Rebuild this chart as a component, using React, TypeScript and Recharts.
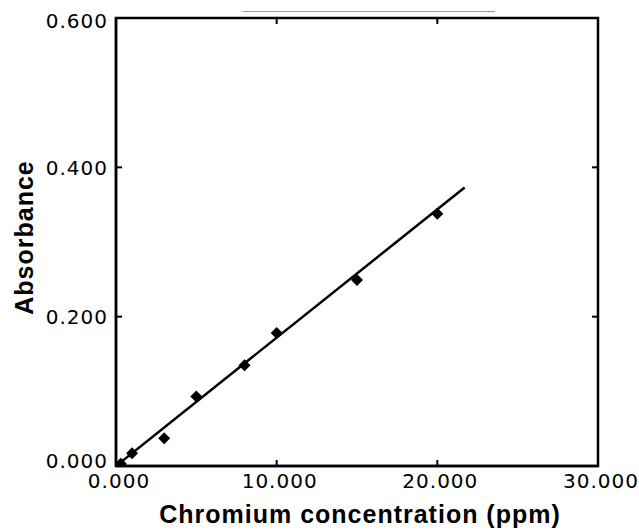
import React from 'react';
import { ScatterChart, Scatter, XAxis, YAxis, Label, ReferenceArea } from 'recharts';

// calibration standards
const CONC = [0.3, 1.0, 3.0, 5.0, 8.0, 10.0, 15.0, 20.0];
const ABS = [0.003, 0.017, 0.037, 0.093, 0.135, 0.178, 0.249, 0.338];

// least squares line, drawn between its two end points
const FIT_X = [0, 21.7];
const FIT_Y = [0, 0.373];

const X_TICKS = [0, 10, 20, 30];
const Y_TICKS = [0, 0.2, 0.4, 0.6];
const INNER_X_TICKS = [10, 20];
const INNER_Y_TICKS = [0.2, 0.4];

const points = CONC.map((x, i) => ({ x, y: ABS[i] }));
const fitLine = FIT_X.map((x, i) => ({ x, y: FIT_Y[i] }));

// plot box, in pixels
const W = 639;
const H = 531;
const M = { top: 18, right: 41, bottom: 0, left: 0 };
const Y_AXIS_W = 116;
const X_AXIS_H = 65;
const PLOT_TOP = M.top;
const PLOT_BOTTOM = H - M.bottom - X_AXIS_H;
const PLOT_LEFT = M.left + Y_AXIS_W;
const PLOT_RIGHT = W - M.right;
const TICK_LEN = 6;

const tickFont = { fill: '#000', fontSize: 20, fontFamily: 'DejaVu Sans', letterSpacing: 1 };
const titleStyle = { fill: '#000', fontSize: 25, fontFamily: 'Liberation Sans, Arial', fontWeight: 700, letterSpacing: 1 };
const frame = { stroke: '#000', strokeWidth: 2.5 };

const Diamond = (props: any) => {
  const { cx, cy } = props;
  const r = 6;
  return <polygon points={`${cx},${cy - r} ${cx + r},${cy} ${cx},${cy + r} ${cx - r},${cy}`} fill="#000" />;
};

// label under the axis plus short inward ticks on bottom and top edges
const XTick = (props: any) => {
  const { x, y, payload } = props;
  const inner = INNER_X_TICKS.includes(payload.value);
  return (
    <g>
      {inner && <line x1={x} x2={x} y1={PLOT_BOTTOM} y2={PLOT_BOTTOM - TICK_LEN} stroke="#000" strokeWidth={2} />}
      {inner && <line x1={x} x2={x} y1={PLOT_TOP} y2={PLOT_TOP + TICK_LEN} stroke="#000" strokeWidth={2} />}
      <text x={x + 3} y={y} dy="0.75em" textAnchor="middle" style={tickFont}>
        {payload.value.toFixed(3)}
      </text>
    </g>
  );
};

const YTick = (props: any) => {
  const { x, y, payload } = props;
  const inner = INNER_Y_TICKS.includes(payload.value);
  const ty = Math.min(Math.max(y, PLOT_TOP + 3), PLOT_BOTTOM - 5);
  return (
    <g>
      {inner && <line x1={PLOT_LEFT} x2={PLOT_LEFT + TICK_LEN} y1={y} y2={y} stroke="#000" strokeWidth={2} />}
      {inner && <line x1={PLOT_RIGHT} x2={PLOT_RIGHT - TICK_LEN} y1={y} y2={y} stroke="#000" strokeWidth={2} />}
      <text x={x} y={ty} dy="0.36em" textAnchor="end" style={tickFont}>
        {payload.value.toFixed(3)}
      </text>
    </g>
  );
};

const XTitle = ({ viewBox }: any) => (
  <text x={viewBox.x + viewBox.width / 2 + 3} y={viewBox.y + 57} textAnchor="middle" style={titleStyle}>
    Chromium concentration (ppm)
  </text>
);

const YTitle = ({ viewBox }: any) => {
  const x = viewBox.x + 33;
  const y = viewBox.y + viewBox.height / 2 - 4.5;
  return (
    <text x={x} y={y} transform={`rotate(-90 ${x} ${y})`} textAnchor="middle" style={titleStyle}>
      Absorbance
    </text>
  );
};

export default function App() {
  return (
    <div style={{ position: 'fixed', left: 0, top: 0, width: W, height: H, background: '#fff' }}>
      {/* faint scan streak above the frame */}
      <div style={{ position: 'absolute', left: 243, top: 11, width: 252, height: 1, background: '#999' }} />
      <ScatterChart width={W} height={H} margin={M}>
        <XAxis
          type="number"
          dataKey="x"
          domain={[0, 30]}
          ticks={X_TICKS}
          allowDataOverflow
          height={X_AXIS_H}
          tickLine={false}
          tickSize={0}
          tickMargin={7}
          axisLine={frame}
          tick={<XTick />}
        >
          <Label content={<XTitle />} />
        </XAxis>
        <YAxis
          type="number"
          dataKey="y"
          domain={[0, 0.6]}
          ticks={Y_TICKS}
          allowDataOverflow
          width={Y_AXIS_W}
          tickLine={false}
          tickSize={0}
          tickMargin={8}
          axisLine={frame}
          tick={<YTick />}
        >
          <Label content={<YTitle />} />
        </YAxis>
        <ReferenceArea x1={0} x2={30} y1={0} y2={0.6} fill="none" fillOpacity={0} stroke="#000" strokeWidth={2.5} />
        <Scatter data={fitLine} line={{ stroke: '#000', strokeWidth: 2.5 }} shape={() => <g />} isAnimationActive={false} />
        <Scatter data={points} shape={Diamond} isAnimationActive={false} />
      </ScatterChart>
    </div>
  );
}
